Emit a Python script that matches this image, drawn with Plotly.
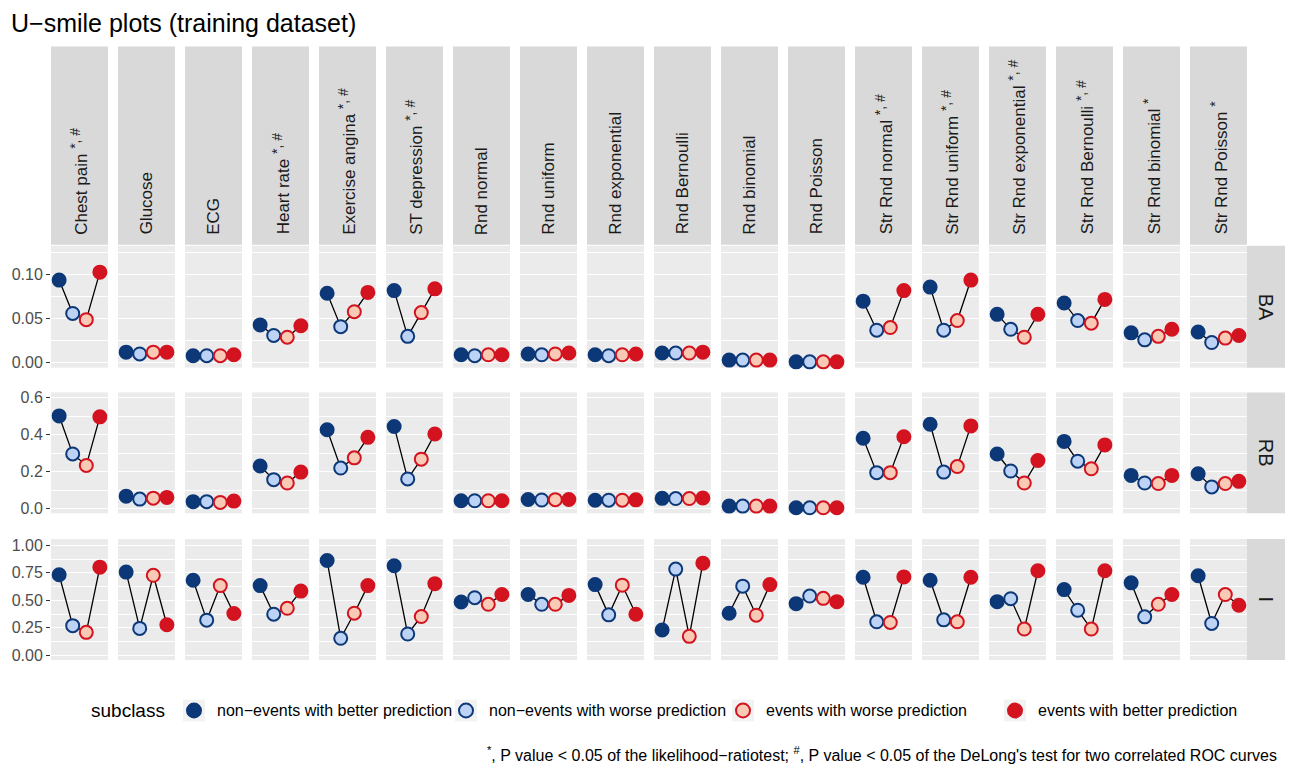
import plotly.graph_objects as go

# ---- data -----------------------------------------------------------------
variables = [
    "Chest pain", "Glucose", "ECG", "Heart rate", "Exercise angina",
    "ST depression", "Rnd normal", "Rnd uniform", "Rnd exponential",
    "Rnd Bernoulli", "Rnd binomial", "Rnd Poisson", "Str Rnd normal",
    "Str Rnd uniform", "Str Rnd exponential", "Str Rnd Bernoulli",
    "Str Rnd binomial", "Str Rnd Poisson",
]
significance = [
    "*, #", "", "", "*, #", "*, #", "*, #", "", "", "", "", "", "",
    "*, #", "*, #", "*, #", "*, #", "*", "*",
]
subclasses = [
    "non\u2212events with better prediction",
    "non\u2212events with worse prediction",
    "events with worse prediction",
    "events with better prediction",
]
coefficients = ["BA", "RB", "I"]

# BA coefficient
ba_nonev_better = [0.094, 0.012, 0.008, 0.043, 0.079, 0.082, 0.009, 0.010, 0.009,
                   0.011, 0.003, 0.001, 0.070, 0.086, 0.055, 0.068, 0.034, 0.035]
ba_nonev_worse = [0.056, 0.010, 0.008, 0.031, 0.041, 0.030, 0.008, 0.009, 0.008,
                  0.011, 0.003, 0.001, 0.037, 0.037, 0.038, 0.048, 0.026, 0.023]
ba_ev_worse = [0.049, 0.012, 0.008, 0.029, 0.058, 0.057, 0.009, 0.010, 0.009,
               0.011, 0.003, 0.001, 0.040, 0.048, 0.029, 0.045, 0.030, 0.028]
ba_ev_better = [0.103, 0.012, 0.009, 0.042, 0.080, 0.084, 0.009, 0.011, 0.010,
                0.012, 0.003, 0.001, 0.082, 0.094, 0.055, 0.072, 0.038, 0.031]

# RB coefficient
rb_nonev_better = [0.502, 0.068, 0.038, 0.231, 0.427, 0.445, 0.043, 0.050, 0.046,
                   0.056, 0.014, 0.005, 0.381, 0.457, 0.296, 0.364, 0.180, 0.189]
rb_nonev_worse = [0.296, 0.052, 0.038, 0.157, 0.220, 0.161, 0.043, 0.047, 0.046,
                  0.055, 0.014, 0.005, 0.195, 0.198, 0.204, 0.257, 0.139, 0.118]
rb_ev_worse = [0.234, 0.057, 0.034, 0.139, 0.275, 0.268, 0.043, 0.049, 0.046,
               0.055, 0.014, 0.005, 0.195, 0.228, 0.139, 0.216, 0.136, 0.136]
rb_ev_better = [0.497, 0.061, 0.041, 0.198, 0.386, 0.404, 0.043, 0.050, 0.048,
                0.058, 0.014, 0.005, 0.389, 0.448, 0.261, 0.345, 0.180, 0.148]

# I coefficient
i_nonev_better = [0.733, 0.757, 0.683, 0.634, 0.862, 0.814, 0.485, 0.553, 0.643,
                  0.230, 0.383, 0.470, 0.710, 0.683, 0.488, 0.598, 0.659, 0.724]
i_nonev_worse = [0.270, 0.245, 0.320, 0.374, 0.155, 0.194, 0.524, 0.464, 0.368,
                 0.784, 0.629, 0.539, 0.305, 0.323, 0.515, 0.410, 0.350, 0.290]
i_ev_worse = [0.209, 0.728, 0.634, 0.428, 0.383, 0.353, 0.464, 0.464, 0.638,
              0.173, 0.365, 0.518, 0.299, 0.305, 0.239, 0.239, 0.464, 0.553]
i_ev_better = [0.802, 0.278, 0.380, 0.584, 0.634, 0.652, 0.553, 0.545, 0.374,
               0.838, 0.643, 0.488, 0.713, 0.710, 0.769, 0.769, 0.553, 0.455]

ba_ticks = [0.00, 0.05, 0.10]
rb_ticks = [0.0, 0.2, 0.4, 0.6]
i_ticks = [0.00, 0.25, 0.50, 0.75, 1.00]

# ---- styling --------------------------------------------------------------
W, H = 1292, 770
FONT = "Liberation Sans, Arial, Helvetica, sans-serif"
fills = ["#0C3878", "#BDD3F5", "#F8C9B4", "#D3131F"]
edges = ["#0C3878", "#0C3878", "#D3131F", "#D3131F"]
PANEL_BG = "#EBEBEB"
STRIP_BG = "#D9D9D9"

rows = [
    dict(series=[ba_nonev_better, ba_nonev_worse, ba_ev_worse, ba_ev_better],
         ticks=ba_ticks, fmt="{:.2f}", rng=[-0.0056, 0.133], top=245, bot=368),
    dict(series=[rb_nonev_better, rb_nonev_worse, rb_ev_worse, rb_ev_better],
         ticks=rb_ticks, fmt="{:.1f}", rng=[-0.025, 0.629], top=393, bot=515),
    dict(series=[i_nonev_better, i_nonev_worse, i_ev_worse, i_ev_better],
         ticks=i_ticks, fmt="{:.2f}", rng=[-0.042, 1.057], top=541, bot=663),
]

COL0, COLW, COLSTEP = 51, 57, 67
STRIP_TOP, STRIP_BOT = 44, 244
RSTRIP_L, RSTRIP_R = 1247, 1285


def px(x):
    return x / W


def py(y):
    return 1 - y / H


fig = go.Figure()
layout = {}
shapes = []
annotations = []

positions = [1, 2, 3, 4]
for r, row in enumerate(rows):
    ticks = row["ticks"]
    minor = [(a + b) / 2 for a, b in zip(ticks[:-1], ticks[1:])]
    step = ticks[1] - ticks[0]
    minor.append(ticks[-1] + step / 2)
    for c in range(len(variables)):
        k = r * len(variables) + c + 1
        xa = "x" if k == 1 else f"x{k}"
        ya = "y" if k == 1 else f"y{k}"
        xname = "xaxis" if k == 1 else f"xaxis{k}"
        yname = "yaxis" if k == 1 else f"yaxis{k}"
        x0 = COL0 + c * COLSTEP
        layout[xname] = dict(
            domain=[px(x0), px(x0 + COLW)], range=[0.4, 4.6], anchor=ya,
            showgrid=False, zeroline=False, showticklabels=False, ticks="",
            fixedrange=True,
        )
        first = c == 0
        layout[yname] = dict(
            domain=[py(row["bot"]), py(row["top"])], range=row["rng"], anchor=xa,
            tickvals=ticks, ticktext=[row["fmt"].format(t) for t in ticks],
            showticklabels=first, ticks="outside" if first else "",
            ticklen=4, tickwidth=1, tickcolor="#333333",
            tickfont=dict(family=FONT, size=16, color="#4D4D4D"),
            showgrid=True, gridcolor="white", gridwidth=1.2, zeroline=False,
            minor=dict(tickvals=minor, showgrid=True, gridcolor="white",
                       gridwidth=0.6, ticks=""),
            showline=False, fixedrange=True,
        )
        yvals = [s[c] for s in row["series"]]
        fig.add_trace(go.Scatter(
            x=positions, y=yvals, xaxis=xa, yaxis=ya, mode="lines+markers",
            line=dict(color="black", width=1.3),
            marker=dict(size=13, color=fills, line=dict(color=edges, width=2)),
            showlegend=False, hoverinfo="skip", cliponaxis=False,
        ))

    # right-hand strip with coefficient name
    shapes.append(dict(type="rect", xref="paper", yref="paper",
                       x0=px(RSTRIP_L), x1=px(RSTRIP_R),
                       y0=py(row["bot"]), y1=py(row["top"]),
                       fillcolor=STRIP_BG, line=dict(width=0), layer="below"))
    annotations.append(dict(xref="paper", yref="paper",
                            x=px((RSTRIP_L + RSTRIP_R) / 2),
                            y=py((row["top"] + row["bot"]) / 2),
                            text=coefficients[r], textangle=90, showarrow=False,
                            font=dict(family=FONT, size=20, color="#1A1A1A"),
                            xanchor="center", yanchor="middle"))

# top strips with variable names
for c, name in enumerate(variables):
    x0 = COL0 + c * COLSTEP
    shapes.append(dict(type="rect", xref="paper", yref="paper",
                       x0=px(x0), x1=px(x0 + COLW),
                       y0=py(STRIP_BOT), y1=py(STRIP_TOP),
                       fillcolor=STRIP_BG, line=dict(width=0), layer="below"))
    if significance[c]:
        label = (f"{name} <sup><span style='font-size:14px'>"
                 f"{significance[c]}</span></sup>")
    else:
        label = name
    annotations.append(dict(xref="paper", yref="paper",
                            x=px(x0 + COLW / 2), y=py(STRIP_BOT - 8),
                            text=label, textangle=-90, showarrow=False,
                            font=dict(family=FONT, size=17, color="#1A1A1A"),
                            xanchor="center", yanchor="bottom"))

# title
annotations.append(dict(xref="paper", yref="paper", x=px(9), y=py(20),
                        text="U\u2212smile plots (training dataset)",
                        showarrow=False, xanchor="left", yanchor="middle",
                        font=dict(family=FONT, size=25, color="black")))

# legend (drawn by hand to follow the ggplot layout)
LEG_Y = 714
annotations.append(dict(xref="paper", yref="paper", x=px(89), y=py(LEG_Y),
                        text="subclass", showarrow=False, xanchor="left",
                        yanchor="middle",
                        font=dict(family=FONT, size=19, color="black")))
key_x = [194, 466, 743, 1015]
for i, label in enumerate(subclasses):
    cx = key_x[i]
    shapes.append(dict(type="rect", xref="paper", yref="paper",
                       x0=px(cx - 11), x1=px(cx + 11),
                       y0=py(LEG_Y + 11), y1=py(LEG_Y - 11),
                       fillcolor="#F2F2F2", line=dict(width=0)))
    shapes.append(dict(type="circle", xref="paper", yref="paper",
                       x0=px(cx - 7), x1=px(cx + 7),
                       y0=py(LEG_Y + 7), y1=py(LEG_Y - 7),
                       fillcolor=fills[i], line=dict(color=edges[i], width=2)))
    annotations.append(dict(xref="paper", yref="paper", x=px(cx + 21),
                            y=py(LEG_Y), text=label, showarrow=False,
                            xanchor="left", yanchor="middle",
                            font=dict(family=FONT, size=16, color="black")))

# footnote
annotations.append(dict(
    xref="paper", yref="paper", x=px(1279), y=py(758),
    text="<sup>*</sup>, P value < 0.05 of the likelihood\u2212ratiotest; "
         "<sup>#</sup>, P value < 0.05 of the DeLong's test for two "
         "correlated ROC curves",
    showarrow=False, xanchor="right", yanchor="middle",
    font=dict(family=FONT, size=16, color="black")))

fig.update_layout(
    width=W, height=H, margin=dict(l=0, r=0, t=0, b=0),
    paper_bgcolor="white", plot_bgcolor=PANEL_BG,
    shapes=shapes, annotations=annotations, showlegend=False,
    **layout,
)

fig.write_html("out.html")
